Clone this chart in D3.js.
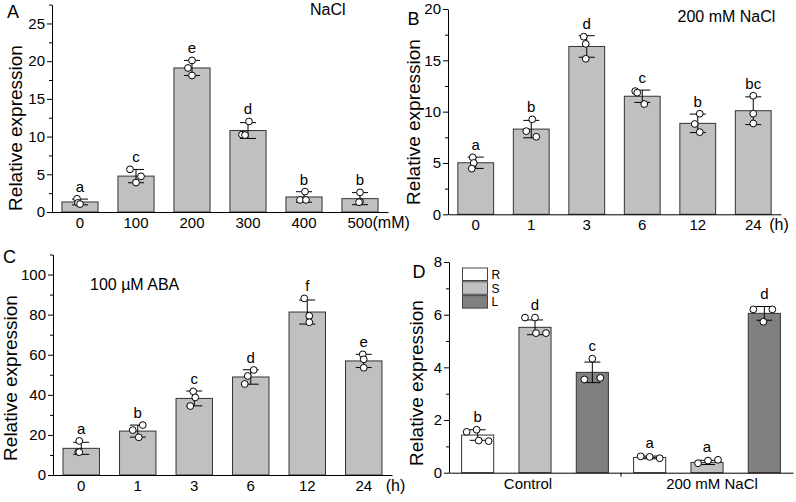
<!DOCTYPE html>
<html><head><meta charset="utf-8">
<script src="https://cdn.jsdelivr.net/npm/d3@7"></script>
<style>
body{margin:0;background:#fff}
svg{display:block}
text{font-family:"Liberation Sans",Arial,sans-serif;fill:#000}
</style>
</head><body>
<svg id="c" width="796" height="502"></svg>
<script>
// ---------- Panel A : NaCl concentration ----------
const catsA = ["0","100","200","300","400","500"];
const meanA = [1.33, 4.76, 19.1, 10.8, 1.99, 1.77];
const sdA   = [0.38, 0.88, 1.0, 1.05, 0.7, 0.8];
const ptsA  = [[1.75,1.2,1.05],[5.66,4.73,3.9],[20.1,19.1,18.1],[12.0,10.25,10.2],[2.7,1.6,1.6],[2.6,1.4,1.3]];
const jitA  = [[-3,-2,0],[-6,5,0],[0,-4,0],[1,-6,-3],[1,-4,2],[0,0,-1]];
const sigA  = ["a","c","e","d","b","b"];
const ticksA = [0,5,10,15,20,25];

// ---------- Panel B : 200 mM NaCl time course ----------
const catsB = ["0","1","3","6","12","24"];
const meanB = [5.02, 8.3, 16.35, 11.5, 8.86, 10.09];
const sdB   = [0.55, 0.85, 1.05, 0.6, 0.9, 1.35];
const ptsB  = [[5.55,5.0,4.45],[9.25,8.1,7.55],[17.3,16.6,15.15],[12.0,11.85,10.74],[9.8,8.8,8.0],[11.55,9.8,8.85]];
const jitB  = [[-3,-2,-4],[1,-5,5],[-3,-1,-1],[-7,-5,2],[2,-3,2],[0,0,0]];
const sigB  = ["a","b","d","c","b","bc"];
const ticksB = [0,5,10,15,20];

// ---------- Panel C : 100 µM ABA time course ----------
const catsC = ["0","1","3","6","12","24"];
const meanC = [13.3, 21.9, 38.2, 48.9, 81.3, 56.9];
const sdC   = [3.0, 3.0, 3.7, 3.6, 6.0, 3.3];
const ptsC  = [[17.0,11.5,11.4],[24.9,22.4,18.8],[41.7,38.7,34.4],[52.4,49.4,45.4],[88.1,79.4,76.2],[60.2,57.7,53.5]];
const jitC  = [[-2,-3,-2],[5,-5,1],[-1,1,-4],[3,-3,-6],[-3,2,2],[-1,0,0]];
const sigC  = ["a","b","c","d","f","e"];
const ticksC = [0,20,40,60,80,100];

// ---------- Panel D : tissues ----------
const groupsD  = ["Control","200 mM NaCl"];
const tissuesD = ["R","S","L"];
const meanD = [[1.43,5.52,3.81],[0.58,0.39,6.05]];
const sdD   = [[0.2,0.28,0.39],[0.05,0.08,0.26]];
const ptsD  = [[[1.55,1.63,1.22,1.2],[5.89,5.89,5.3,5.3],[4.33,3.54,3.6]],
               [[0.62,0.6,0.55],[0.36,0.46,0.49],[6.2,6.2,5.73]]];
const jitD  = [[[-11,-1,1,11],[-10,0,1,11],[0,-8,8]],
               [[-9,0,10],[-9,1,11],[-11,8,-1]]];
const sigD  = [["b","d","c"],["a","a","d"]];
const ticksD = [0,2,4,6,8];

const svg = d3.select("#c");
const BAR_GRAY = "#c0c0c0";
const tissueFill = {R:"#ffffff", S:"#c0c0c0", L:"#808080"};
const TICK_FS = 15;

function yAxis(g, y, x0, major, minorStep) {
  const ax = g.append("g").attr("transform", `translate(${x0},0)`)
    .call(d3.axisLeft(y).tickValues(major).tickSize(5).tickSizeOuter(0).tickPadding(2).tickFormat(d3.format("d")));
  ax.selectAll("text").attr("font-size", TICK_FS);
  ax.selectAll("line,path").attr("stroke", "#000");
  const dom = y.domain();
  const minors = d3.range(dom[0] + minorStep, dom[1] + 1e-9, minorStep).filter(v => !major.some(m => Math.abs(m - v) < 1e-9));
  const mx = g.append("g").attr("transform", `translate(${x0},0)`)
    .call(d3.axisLeft(y).tickValues(minors).tickSize(3).tickSizeOuter(0).tickFormat(""));
  mx.select(".domain").remove();
  mx.selectAll("line").attr("stroke", "#000");
}

function drawMarks(g, y, cx, bw, mean, sd, pts, jit, sig, fill, gap) {
  g.append("rect").attr("x", cx - bw/2).attr("width", bw)
    .attr("y", y(mean)).attr("height", y(0) - y(mean))
    .attr("fill", fill).attr("stroke", "#333").attr("stroke-width", 1);
  const cap = 8;
  const eb = g.append("g").attr("stroke", "#000").attr("stroke-width", 1);
  eb.append("line").attr("x1", cx).attr("x2", cx).attr("y1", y(mean - sd)).attr("y2", y(mean + sd));
  eb.append("line").attr("x1", cx - cap).attr("x2", cx + cap).attr("y1", y(mean + sd)).attr("y2", y(mean + sd));
  eb.append("line").attr("x1", cx - cap).attr("x2", cx + cap).attr("y1", y(mean - sd)).attr("y2", y(mean - sd));
  pts.forEach((p, k) => {
    g.append("circle").attr("cx", cx + jit[k]).attr("cy", y(p)).attr("r", 3.4)
      .attr("fill", "#fff").attr("stroke", "#000").attr("stroke-width", 1);
  });
  const top = Math.max(mean + sd, d3.max(pts));
  g.append("text").attr("x", cx).attr("y", y(top) - gap).attr("text-anchor", "middle")
    .attr("font-size", 15).text(sig);
}

function simplePanel(o) {
  const g = svg.append("g");
  const x = d3.scaleBand().domain(o.cats).range([o.x0, o.x1]).padding(0);
  const y = d3.scaleLinear().domain([0, o.ymax]).range([o.y0, o.yTop]);
  const bw = x.bandwidth() * 0.645;
  o.cats.forEach((c, i) => {
    drawMarks(g, y, x(c) + x.bandwidth()/2, bw, o.mean[i], o.sd[i], o.pts[i], o.jit[i], o.sig[i], BAR_GRAY, 7);
  });
  yAxis(g, y, o.x0, o.ticks, o.minor);
  const xa = g.append("g").attr("transform", `translate(0,${o.y0})`)
    .call(d3.axisBottom(x).tickSize(0).tickSizeOuter(0).tickPadding(5));
  xa.selectAll("text").attr("font-size", TICK_FS);
  xa.select(".domain").attr("stroke", "#000");
  const last = o.cats[o.cats.length - 1];
  g.append("text").attr("x", x(last) + x.bandwidth()/2 + o.unitDx).attr("y", o.y0 + 16)
    .attr("font-size", 16).text(o.unit);
  g.append("text").attr("transform", `translate(${o.titleX},${o.titleY}) rotate(-90)`)
    .attr("text-anchor", "middle").attr("font-size", 19).text("Relative expression");
  g.append("text").attr("x", o.letterX).attr("y", o.letterY).attr("font-size", 18).text(o.letter);
  g.append("text").attr("x", o.noteX).attr("y", o.noteY).attr("font-size", 16).text(o.note);
}

simplePanel({cats: catsA, mean: meanA, sd: sdA, pts: ptsA, jit: jitA, sig: sigA, ticks: ticksA, minor: 2.5,
  x0: 52, x1: 388, y0: 212, yTop: 4.6, ymax: 27.5, unit: "(mM)", unitDx: 12.5,
  titleX: 22, titleY: 128, letter: "A", letterX: 7, letterY: 18, note: "NaCl", noteX: 310, noteY: 15});

simplePanel({cats: catsB, mean: meanB, sd: sdB, pts: ptsB, jit: jitB, sig: sigB, ticks: ticksB, minor: 2.5,
  x0: 448, x1: 781, y0: 214.3, yTop: 9, ymax: 20, unit: "(h)", unitDx: 16,
  titleX: 420, titleY: 122, letter: "B", letterX: 407.5, letterY: 25, note: "200 mM NaCl", noteX: 677.5, noteY: 21.5});

simplePanel({cats: catsC, mean: meanC, sd: sdC, pts: ptsC, jit: jitC, sig: sigC, ticks: ticksC, minor: 10,
  x0: 53, x1: 392, y0: 475, yTop: 254.5, ymax: 110, unit: "(h)", unitDx: 22,
  titleX: 17, titleY: 378, letter: "C", letterX: 3, letterY: 263, note: "100 µM ABA", noteX: 90, noteY: 290});

// ---------- Panel D ----------
(function() {
  const g = svg.append("g");
  const x0 = 449, x1 = 793, y0 = 472.7, yTop = 262;
  const gx = d3.scaleBand().domain(groupsD).range([x0, x1]).padding(0);
  const tx = d3.scaleBand().domain(tissuesD).range([0, gx.bandwidth()]).padding(0);
  const y = d3.scaleLinear().domain([0, 8]).range([y0, yTop]);
  const bw = tx.bandwidth() * 0.56;
  groupsD.forEach((grp, i) => {
    tissuesD.forEach((t, j) => {
      const cx = gx(grp) + tx(t) + tx.bandwidth()/2;
      drawMarks(g, y, cx, bw, meanD[i][j], sdD[i][j], ptsD[i][j], jitD[i][j], sigD[i][j], tissueFill[t], 8);
    });
  });
  yAxis(g, y, x0, ticksD, 1);
  const xa = g.append("g").attr("transform", `translate(0,${y0})`)
    .call(d3.axisBottom(gx).tickSize(0).tickSizeOuter(0).tickPadding(6));
  xa.selectAll("text").attr("font-size", TICK_FS)
    .attr("dx", (d, i) => i === 0 ? -7 : 5);
  xa.select(".domain").attr("stroke", "#000");
  // group separator tick
  g.append("line").attr("x1", gx(groupsD[1])).attr("x2", gx(groupsD[1]))
    .attr("y1", y0).attr("y2", y0 + 4).attr("stroke", "#000");
  g.append("text").attr("transform", `translate(423,383) rotate(-90)`)
    .attr("text-anchor", "middle").attr("font-size", 19).text("Relative expression");
  g.append("text").attr("x", 412.5).attr("y", 278).attr("font-size", 18).text("D");
  // legend
  const lg = g.append("g").attr("transform", "translate(462.5,268)");
  tissuesD.forEach((t, j) => {
    lg.append("rect").attr("x", 0).attr("y", j * 13.8).attr("width", 25).attr("height", 12.5)
      .attr("fill", tissueFill[t]).attr("stroke", "#444").attr("stroke-width", 1);
    lg.append("text").attr("x", 29).attr("y", j * 13.8 + 10.8).attr("font-size", 12).text(t);
  });
})();
</script>
</body></html>
